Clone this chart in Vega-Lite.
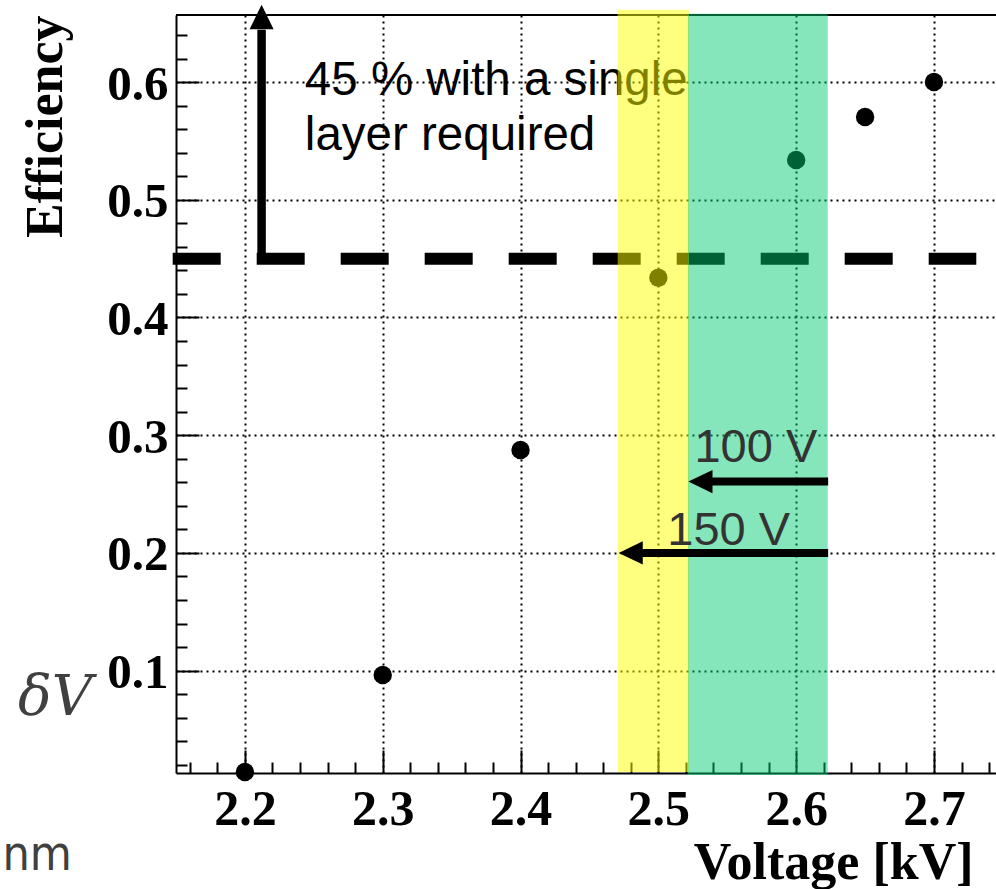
{
  "$schema": "https://vega.github.io/schema/vega-lite/v6.json",
  "width": 820,
  "height": 758,
  "autosize": {"type": "none"},
  "padding": {"left": 176, "top": 15, "right": 0, "bottom": 116},
  "background": "white",
  "config": {"view": {"stroke": null}},
  "datasets": {
    "dash": [{"x": 2.1476, "x2": 2.7307, "y": 0.45}],
    "frame": [{"x": 2.15, "x2": 2.745, "y": 0.657}],
    "vshaft": [{"x": 2.2121, "y": 0.45, "y2": 0.6445}],
    "heads": [
      {"x": 2.2121, "y": 0.6657, "dir": "up"},
      {"x": 2.5218, "y": 0.2606, "dir": "left"},
      {"x": 2.4712, "y": 0.2, "dir": "left"}
    ],
    "hshafts": [
      {"x": 2.6232, "x2": 2.537, "y": 0.2606},
      {"x": 2.6232, "x2": 2.487, "y": 0.2}
    ],
    "note": [{"x": 2.2435, "y": 0.5892, "label": "45 % with a single\nlayer required"}],
    "points": [
      {"x": 2.2, "y": 0.0139},
      {"x": 2.3, "y": 0.0963},
      {"x": 2.4, "y": 0.2874},
      {"x": 2.5, "y": 0.4337},
      {"x": 2.6, "y": 0.5338},
      {"x": 2.65, "y": 0.5703},
      {"x": 2.7, "y": 0.6}
    ],
    "bands": [
      {"x": 2.4705, "x2": 2.5222, "y": 0.6614, "y2": 0.0139, "band": "150 V"},
      {"x": 2.5215, "x2": 2.6229, "y": 0.658, "y2": 0.0114, "band": "100 V"}
    ],
    "vlabels": [
      {"x": 2.5262, "y": 0.2776, "label": "100 V"},
      {"x": 2.5065, "y": 0.2068, "label": "150 V"}
    ],
    "dv": [{"x": 2.0353, "y": 0.0624, "label": "δV"}],
    "nm": [{"x": 2.0745, "y": -0.0694, "label": "nm"}]
  },
  "encoding": {
    "x": {
      "field": "x",
      "type": "quantitative",
      "scale": {"domain": [2.15, 2.745], "nice": false, "zero": false},
      "axis": {
        "values": [2.16,2.18,2.2,2.22,2.24,2.26,2.28,2.3,2.32,2.34,2.36,2.38,2.4,2.42,2.44,2.46,2.48,2.5,2.52,2.54,2.56,2.58,2.6,2.62,2.64,2.66,2.68,2.7,2.72,2.74],
        "title": "Voltage [kV]",
        "titleFont": "Liberation Serif",
        "titleFontSize": 52,
        "titleFontWeight": "bold",
        "titleColor": "black",
        "titleAlign": "right",
        "titleBaseline": "alphabetic",
        "titleX": 797,
        "titleY": 105,
        "labelFont": "Liberation Serif",
        "labelFontSize": 50,
        "labelFontWeight": "bold",
        "labelColor": "black",
        "labelBaseline": "alphabetic",
        "labelAlign": "center",
        "labelPadding": 74,
        "labelFlush": false,
        "labelOverlap": false,
        "labelExpr": "abs(datum.value*10 - round(datum.value*10)) < 0.01 ? format(datum.value, '.1f') : ''",
        "domainColor": "black",
        "domainWidth": 2,
        "tickColor": "black",
        "tickWidth": 2,
        "tickSize": {"condition": {"test": "abs(datum.value*10 - round(datum.value*10)) < 0.01", "value": -23}, "value": -11},
        "grid": true,
        "gridColor": "black",
        "gridDash": [2, 4],
        "gridWidth": 2,
        "gridOpacity": {"condition": {"test": "abs(datum.value*10 - round(datum.value*10)) < 0.01", "value": 1}, "value": 0}
      }
    },
    "y": {
      "field": "y",
      "type": "quantitative",
      "scale": {"domain": [0.013, 0.657], "nice": false, "zero": false},
      "axis": {
        "values": [0.02,0.04,0.06,0.08,0.1,0.12,0.14,0.16,0.18,0.2,0.22,0.24,0.26,0.28,0.3,0.32,0.34,0.36,0.38,0.4,0.42,0.44,0.46,0.48,0.5,0.52,0.54,0.56,0.58,0.6,0.62,0.64],
        "title": "Efficiency",
        "titleFont": "Liberation Serif",
        "titleFontSize": 52,
        "titleFontWeight": "bold",
        "titleColor": "black",
        "titleAngle": -90,
        "titleAlign": "right",
        "titleBaseline": "alphabetic",
        "titleX": -115,
        "titleY": 0,
        "labelFont": "Liberation Serif",
        "labelFontSize": 49,
        "labelFontWeight": "bold",
        "labelColor": "black",
        "labelBaseline": "alphabetic",
        "labelAlign": "right",
        "labelOffset": 17,
        "labelPadding": 31,
        "labelFlush": false,
        "labelOverlap": false,
        "labelExpr": "abs(datum.value*10 - round(datum.value*10)) < 0.01 ? format(datum.value, '.1f') : ''",
        "domainColor": "black",
        "domainWidth": 2,
        "tickColor": "black",
        "tickWidth": 2,
        "tickSize": {"condition": {"test": "abs(datum.value*10 - round(datum.value*10)) < 0.01", "value": -23}, "value": -11},
        "grid": true,
        "gridColor": "black",
        "gridDash": [2, 4],
        "gridWidth": 2,
        "gridOpacity": {"condition": {"test": "abs(datum.value*10 - round(datum.value*10)) < 0.01", "value": 1}, "value": 0}
      }
    }
  },
  "layer": [
    {
      "data": {"name": "dash"},
      "mark": {"type": "rule", "color": "black", "strokeWidth": 12, "strokeDash": [48, 36]},
      "encoding": {"x2": {"field": "x2"}}
    },
    {
      "data": {"name": "frame"},
      "mark": {"type": "rule", "color": "black", "strokeWidth": 2},
      "encoding": {"x2": {"field": "x2"}}
    },
    {
      "data": {"name": "vshaft"},
      "mark": {"type": "rule", "color": "black", "strokeWidth": 8.5},
      "encoding": {"y2": {"field": "y2"}}
    },
    {
      "data": {"name": "heads"},
      "transform": [{"filter": "datum.dir == 'up'"}],
      "mark": {"type": "point", "filled": true, "color": "black", "opacity": 1, "size": 600, "strokeWidth": 0},
      "encoding": {
        "shape": {"field": "dir", "type": "nominal", "scale": {"domain": ["left", "up"], "range": ["M0,0L2,-0.96L2,0.96Z", "M0,0L-0.98,2L0.98,2Z"]}, "legend": null}
      }
    },
    {
      "data": {"name": "note"},
      "mark": {"type": "text", "align": "left", "baseline": "alphabetic", "font": "Liberation Sans", "fontSize": 47.5, "lineHeight": 55, "color": "black", "lineBreak": "\n"},
      "encoding": {"text": {"field": "label"}}
    },
    {
      "data": {"name": "points"},
      "mark": {"type": "circle", "color": "black", "opacity": 1, "size": 340}
    },
    {
      "data": {"name": "bands"},
      "mark": {"type": "rect"},
      "encoding": {
        "x2": {"field": "x2"},
        "y2": {"field": "y2"},
        "color": {"field": "band", "type": "nominal", "scale": {"domain": ["150 V", "100 V"], "range": ["#ffff00", "#00cb70"]}, "legend": null},
        "opacity": {"field": "band", "type": "nominal", "scale": {"domain": ["150 V", "100 V"], "range": [0.5, 0.48]}, "legend": null}
      }
    },
    {
      "data": {"name": "hshafts"},
      "mark": {"type": "rule", "color": "black", "strokeWidth": 8},
      "encoding": {"x2": {"field": "x2"}}
    },
    {
      "data": {"name": "heads"},
      "transform": [{"filter": "datum.dir == 'left'"}],
      "mark": {"type": "point", "filled": true, "color": "black", "opacity": 1, "size": 580, "strokeWidth": 0},
      "encoding": {
        "shape": {"field": "dir", "type": "nominal", "scale": {"domain": ["left", "up"], "range": ["M0,0L2,-0.96L2,0.96Z", "M0,0L-0.98,2L0.98,2Z"]}, "legend": null}
      }
    },
    {
      "data": {"name": "vlabels"},
      "mark": {"type": "text", "align": "left", "baseline": "alphabetic", "font": "Liberation Sans", "fontSize": 47, "color": "#333333"},
      "encoding": {"text": {"field": "label"}}
    },
    {
      "data": {"name": "dv"},
      "mark": {"type": "text", "align": "left", "baseline": "alphabetic", "font": "DejaVu Serif", "fontStyle": "italic", "fontSize": 56, "color": "#404040"},
      "encoding": {"text": {"field": "label"}}
    },
    {
      "data": {"name": "nm"},
      "mark": {"type": "text", "align": "right", "baseline": "alphabetic", "font": "Liberation Sans Narrow, DejaVu Sans Condensed, Liberation Sans", "fontSize": 48, "color": "#404040"},
      "encoding": {"text": {"field": "label"}}
    }
  ]
}
